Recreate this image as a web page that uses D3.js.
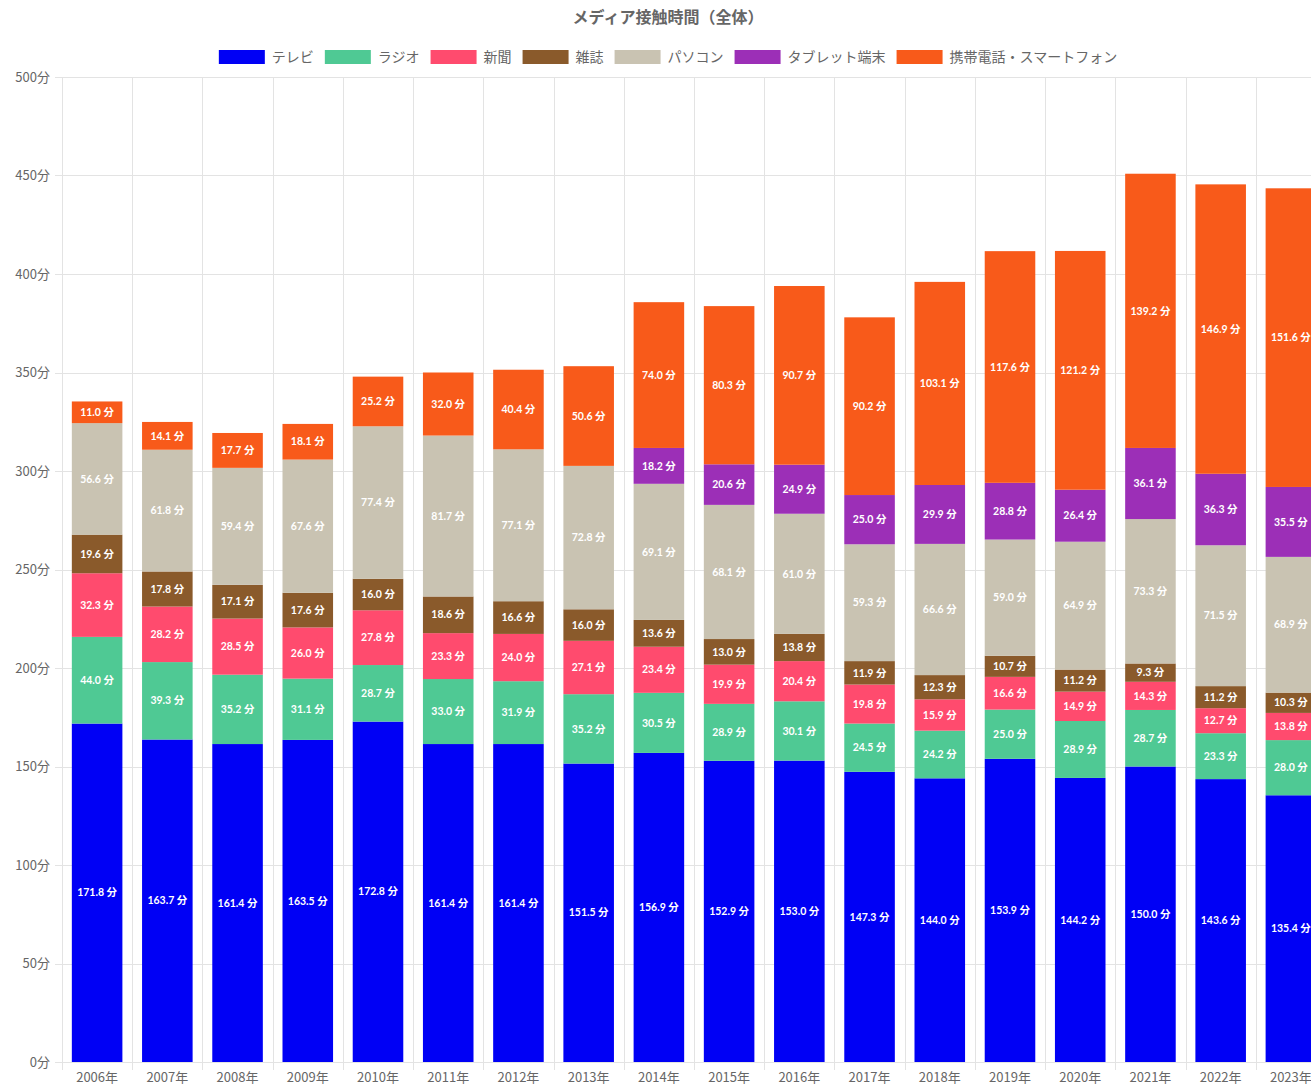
<!DOCTYPE html>
<html>
<head>
<meta charset="utf-8">
<script src="https://cdn.jsdelivr.net/npm/d3@7"></script>
<style>
  html, body { margin: 0; padding: 0; background: #fff; overflow: hidden; }
  body { font-family: "Noto Sans CJK JP", "Noto Sans", sans-serif; }
  .grid line { stroke: #e3e3e3; }
  .tick-label { fill: #666; font-size: 13px; }
  .seg-label { fill: #fff; font-size: 10.5px; font-weight: bold; font-family: "Lato", "Noto Sans CJK JP", sans-serif; }
</style>
</head>
<body>
<div id="chart"></div>
<script>
// categories
const years = ["2006年","2007年","2008年","2009年","2010年","2011年","2012年","2013年","2014年",
               "2015年","2016年","2017年","2018年","2019年","2020年","2021年","2022年","2023年"];

// series values (minutes)
const tv       = [171.8,163.7,161.4,163.5,172.8,161.4,161.4,151.5,156.9,152.9,153.0,147.3,144.0,153.9,144.2,150.0,143.6,135.4];
const radio    = [44.0,39.3,35.2,31.1,28.7,33.0,31.9,35.2,30.5,28.9,30.1,24.5,24.2,25.0,28.9,28.7,23.3,28.0];
const paper    = [32.3,28.2,28.5,26.0,27.8,23.3,24.0,27.1,23.4,19.9,20.4,19.8,15.9,16.6,14.9,14.3,12.7,13.8];
const magazine = [19.6,17.8,17.1,17.6,16.0,18.6,16.6,16.0,13.6,13.0,13.8,11.9,12.3,10.7,11.2,9.3,11.2,10.3];
const pc       = [56.6,61.8,59.4,67.6,77.4,81.7,77.1,72.8,69.1,68.1,61.0,59.3,66.6,59.0,64.9,73.3,71.5,68.9];
const tablet   = [null,null,null,null,null,null,null,null,18.2,20.6,24.9,25.0,29.9,28.8,26.4,36.1,36.3,35.5];
const mobile   = [11.0,14.1,17.7,18.1,25.2,32.0,40.4,50.6,74.0,80.3,90.7,90.2,103.1,117.6,121.2,139.2,146.9,151.6];

const seriesNames = ["テレビ","ラジオ","新聞","雑誌","パソコン","タブレット端末","携帯電話・スマートフォン"];
const seriesValues = [tv, radio, paper, magazine, pc, tablet, mobile];
const colors = ["#0000f5","#4fc994","#ff4b6e","#8a5a2b","#c9c3b2","#9c2fb7","#f85a1a"];
const yTicks = [0,50,100,150,200,250,300,350,400,450,500];

const W = 1336, H = 1090;
const margin = {top: 77, right: 10, bottom: 28, left: 62};

const svg = d3.select("#chart").append("svg")
    .attr("width", W)
    .attr("height", H);

const x = d3.scaleBand()
    .domain(years)
    .range([margin.left, W - margin.right])
    .padding(0);

const y = d3.scaleLinear()
    .domain([0, 500])
    .range([H - margin.bottom, margin.top]);

// table for stacking
const table = years.map((yr, i) => {
  const row = {year: yr};
  seriesNames.forEach((s, k) => row[s] = seriesValues[k][i] || 0);
  return row;
});
const stacked = d3.stack().keys(seriesNames)(table);

// horizontal grid
svg.append("g").attr("class", "grid")
  .selectAll("line")
  .data(yTicks)
  .enter().append("line")
    .attr("x1", margin.left - 7)
    .attr("x2", W - margin.right)
    .attr("y1", d => Math.round(y(d)) + 0.5)
    .attr("y2", d => Math.round(y(d)) + 0.5);

// vertical grid at category edges
svg.append("g").attr("class", "grid")
  .selectAll("line")
  .data(years)
  .enter().append("line")
    .attr("x1", d => Math.round(x(d)) + 0.5)
    .attr("x2", d => Math.round(x(d)) + 0.5)
    .attr("y1", margin.top)
    .attr("y2", H - margin.bottom + 8);

// y tick labels
svg.append("g")
  .selectAll("text")
  .data(yTicks)
  .enter().append("text")
    .attr("class", "tick-label")
    .attr("x", margin.left - 12)
    .attr("y", d => y(d))
    .attr("dy", "0.35em")
    .attr("text-anchor", "end")
    .text(d => d + "分");

// x tick labels
svg.append("g")
  .selectAll("text")
  .data(years)
  .enter().append("text")
    .attr("class", "tick-label")
    .attr("x", d => x(d) + x.bandwidth() / 2)
    .attr("y", H - margin.bottom + 20)
    .attr("text-anchor", "middle")
    .text(d => d);

// bars
const barW = x.bandwidth() * 0.72;
const layer = svg.append("g")
  .selectAll("g")
  .data(stacked)
  .enter().append("g")
    .attr("fill", (d, k) => colors[k]);

layer.selectAll("rect")
  .data(d => d.filter(p => p[1] - p[0] > 0))
  .enter().append("rect")
    .attr("x", p => x(p.data.year) + (x.bandwidth() - barW) / 2)
    .attr("width", barW)
    .attr("y", p => y(p[1]))
    .attr("height", p => y(p[0]) - y(p[1]));

// segment labels
layer.selectAll("text")
  .data(d => d.filter(p => p[1] - p[0] > 0))
  .enter().append("text")
    .attr("class", "seg-label")
    .attr("x", p => x(p.data.year) + x.bandwidth() / 2)
    .attr("y", p => (y(p[0]) + y(p[1])) / 2)
    .attr("dy", "0.35em")
    .attr("text-anchor", "middle")
    .text(p => d3.format(".1f")(p[1] - p[0]) + " 分");

// title
svg.append("text")
  .attr("x", W / 2)
  .attr("y", 17)
  .attr("dy", "0.35em")
  .attr("text-anchor", "middle")
  .attr("fill", "#666")
  .style("font-size", "16px")
  .style("font-weight", "bold")
  .text("メディア接触時間（全体）");

// legend
const legend = svg.append("g");
const boxW = 46, boxH = 14, gapText = 7, gapItem = 11;
let lx = 0;
seriesNames.forEach((s, k) => {
  const g = legend.append("g");
  g.append("rect")
    .attr("width", boxW).attr("height", boxH)
    .attr("y", -boxH / 2)
    .attr("fill", colors[k]);
  const t = g.append("text")
    .attr("x", boxW + gapText)
    .attr("dy", "0.35em")
    .attr("fill", "#666")
    .style("font-size", "14px")
    .text(s);
  const w = boxW + gapText + t.node().getComputedTextLength();
  g.attr("transform", `translate(${lx},0)`);
  lx += w + gapItem;
});
const legendW = lx - gapItem;
legend.attr("transform", `translate(${(W - legendW) / 2},57)`);
</script>
</body>
</html>
